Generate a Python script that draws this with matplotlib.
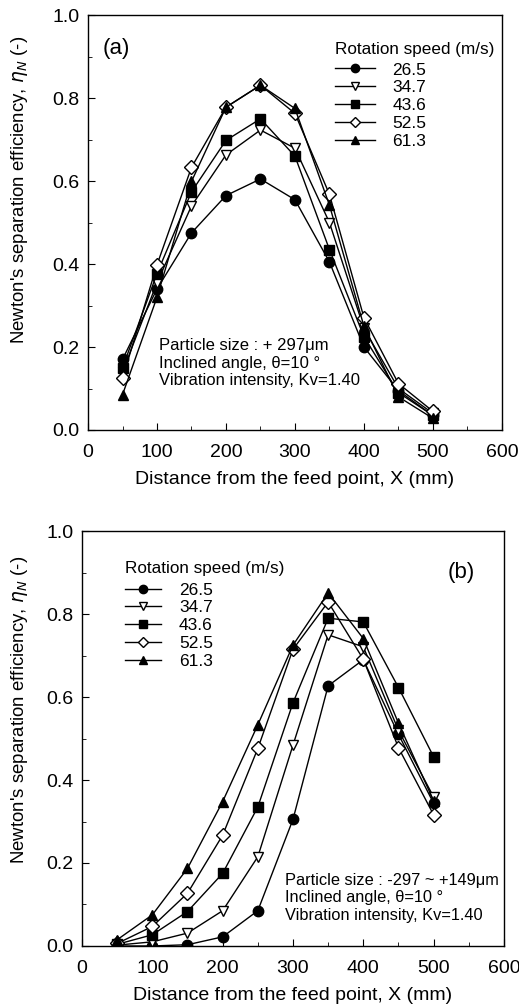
import matplotlib.pyplot as plt
from matplotlib.ticker import MultipleLocator

plt.rcParams['font.family'] = ['Liberation Sans', 'DejaVu Sans']

x = [50, 100, 150, 200, 250, 300, 350, 400, 450, 500]
speeds = ['26.5', '34.7', '43.6', '52.5', '61.3']
markers = ['o', 'v', 's', 'D', '^']
fills = ['k', 'w', 'k', 'w', 'k']

# panel (a): +297 um
eff_a = {
    '26.5': [0.17, 0.34, 0.475, 0.565, 0.605, 0.555, 0.405, 0.20, 0.095, 0.035],
    '34.7': [0.14, 0.355, 0.54, 0.663, 0.723, 0.679, 0.50, 0.245, 0.10, 0.04],
    '43.6': [0.15, 0.377, 0.574, 0.698, 0.75, 0.66, 0.435, 0.225, 0.09, 0.035],
    '52.5': [0.125, 0.398, 0.633, 0.778, 0.831, 0.763, 0.568, 0.271, 0.112, 0.045],
    '61.3': [0.085, 0.32, 0.599, 0.778, 0.831, 0.775, 0.542, 0.25, 0.08, 0.028],
}
# panel (b): -297 ~ +149 um
eff_b = {
    '26.5': [0.0, 0.0, 0.003, 0.022, 0.085, 0.305, 0.627, 0.69, 0.51, 0.344],
    '34.7': [0.002, 0.01, 0.031, 0.085, 0.215, 0.484, 0.75, 0.721, 0.52, 0.359],
    '43.6': [0.004, 0.027, 0.083, 0.175, 0.335, 0.586, 0.79, 0.781, 0.623, 0.456],
    '52.5': [0.006, 0.047, 0.127, 0.267, 0.476, 0.715, 0.829, 0.691, 0.478, 0.316],
    '61.3': [0.015, 0.075, 0.187, 0.348, 0.533, 0.725, 0.851, 0.741, 0.537, 0.35],
}

fig = plt.figure(figsize=(5.19, 10.07), dpi=100)
ax_a = fig.add_axes([0.1696, 0.573, 0.7974, 0.412])
ax_b = fig.add_axes([0.158, 0.0606, 0.813, 0.412])

def draw(ax, data, ylab_pos):
    for s, m, f in zip(speeds, markers, fills):
        ms = 7 if m == 'D' else 7.5
        ax.plot(x, data[s], marker=m, color='k', mfc=f, mec='k', ms=ms, lw=1,
                label=s)
    ax.set_xlim(0, 600)
    ax.set_ylim(0, 1.0)
    ax.xaxis.set_major_locator(MultipleLocator(100))
    ax.xaxis.set_minor_locator(MultipleLocator(50))
    ax.yaxis.set_major_locator(MultipleLocator(0.2))
    ax.yaxis.set_minor_locator(MultipleLocator(0.1))
    ax.yaxis.set_major_formatter(plt.FormatStrFormatter('%.1f'))
    ax.tick_params(which='both', direction='in', labelsize=14)
    ax.tick_params(which='major', length=5, pad=6)
    ax.tick_params(axis='x', which='major', pad=10)
    ax.tick_params(which='minor', length=3)
    ax.set_xlabel('Distance from the feed point, X (mm)', fontsize=14, labelpad=7)
    ax.set_ylabel("Newton's separation efficiency, $\\eta_N$ (-)", fontsize=13.4)
    ax.yaxis.set_label_coords(*ylab_pos)
    for sp in ax.spines.values():
        sp.set_linewidth(1)

def legend(ax, tpos, anchor, hl):
    ax.text(tpos[0], tpos[1], 'Rotation speed (m/s)', transform=ax.transAxes,
            fontsize=12.3, va='center')
    ax.legend(loc='upper left', bbox_to_anchor=anchor, frameon=False,
              fontsize=12.5, handlelength=hl, labelspacing=0.15,
              handletextpad=1.0, markerscale=0.8, borderaxespad=0, borderpad=0)

draw(ax_a, eff_a, (-0.14, 0.578))
draw(ax_b, eff_b, (-0.123, 0.569))

ax_a.text(0.035, 0.92, '(a)', transform=ax_a.transAxes, fontsize=16, va='center')
legend(ax_a, (0.597, 0.918), (0.597, 0.886), 2.3)
ax_a.text(0.172, 0.161, 'Particle size : + 297\u03bcm\nInclined angle, \u03b8=10 \u00b0\n'
          'Vibration intensity, Kv=1.40', transform=ax_a.transAxes,
          fontsize=12, va='center', linespacing=1.2)

ax_b.text(0.867, 0.90, '(b)', transform=ax_b.transAxes, fontsize=16, va='center')
legend(ax_b, (0.102, 0.911), (0.102, 0.876), 2.1)
ax_b.text(0.481, 0.116, 'Particle size : -297 ~ +149\u03bcm\nInclined angle, \u03b8=10 \u00b0\n'
          'Vibration intensity, Kv=1.40', transform=ax_b.transAxes,
          fontsize=11.8, va='center', linespacing=1.2)

fig.savefig('out.png', dpi=100)
